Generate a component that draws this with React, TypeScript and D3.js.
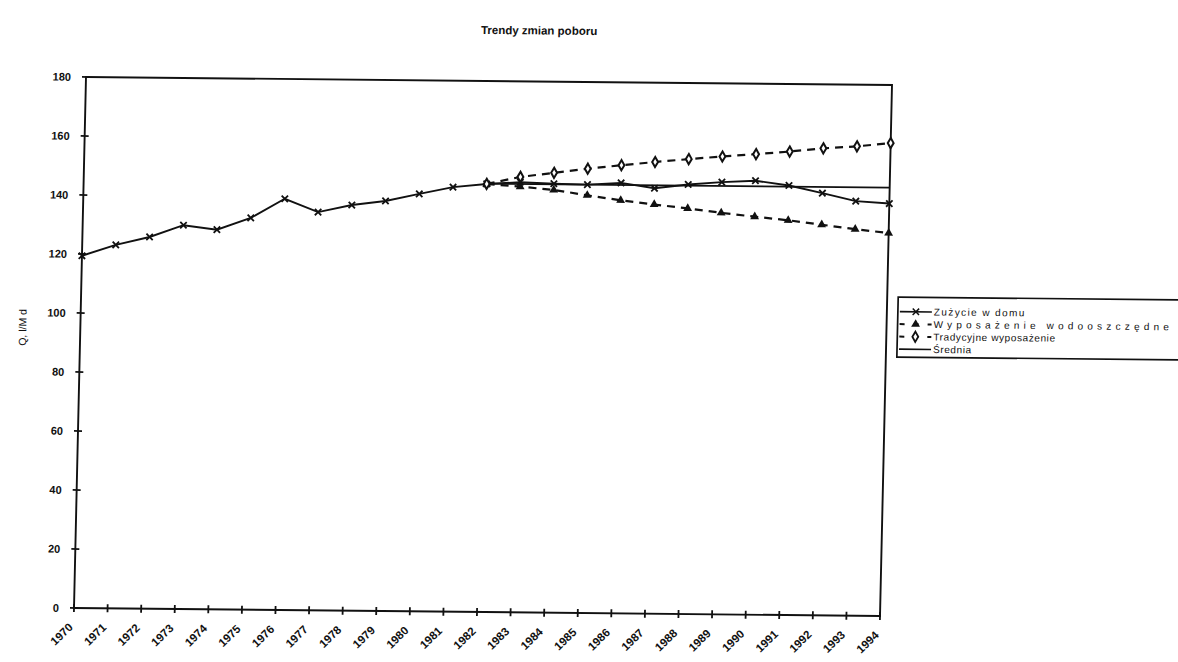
import React from "react";
import * as d3 from "d3";

// Years on the category axis
const YEARS = [
  1970, 1971, 1972, 1973, 1974, 1975, 1976, 1977, 1978, 1979, 1980, 1981, 1982,
  1983, 1984, 1985, 1986, 1987, 1988, 1989, 1990, 1991, 1992, 1993, 1994,
];

// Household consumption, l/M d
const HOME_USE = [
  119.4, 123.2, 126.0, 130.1, 128.7, 132.8, 139.4, 135.0, 137.5, 139.0, 141.5, 143.9, 145.1,
  145.8, 145.4, 145.2, 145.9, 144.2, 145.6, 146.5, 147.1, 145.6, 143.1, 140.5, 139.8,
];

// Projection years (both scenarios)
const PROJ_YEARS = [1982, 1983, 1984, 1985, 1986, 1987, 1988, 1989, 1990, 1991, 1992, 1993, 1994];
// Water-saving fixtures scenario
const SAVING = [145.1, 144.3, 143.3, 141.6, 140.0, 138.7, 137.5, 136.1, 134.9, 133.8, 132.4, 131.0, 129.8];
// Traditional fixtures scenario
const TRADITIONAL = [145.1, 147.6, 149.1, 150.6, 151.9, 153.1, 154.2, 155.2, 156.1, 157.1, 158.3, 159.1, 160.3];

// Mean level over the projection period
const MEAN_YEARS = [1982, 1994];
const MEAN_VALUE = 145.2;

const Y_TICKS = [0, 20, 40, 60, 80, 100, 120, 140, 160, 180];

const LEGEND = [
  "Zużycie w domu",
  "Wyposażenie wodooszczędne",
  "Tradycyjne wyposażenie",
  "Średnia",
];
const LEGEND_SPACING = [1.4, 4.2, 0.6, 0.6];

const FONT = "'Liberation Sans', Arial, Helvetica, sans-serif";
const INK = "#111";

const PLOT = { left: 86, top: 77, width: 806, height: 531 };

const xMark = "M-3.2,-3.2L3.2,3.2M-3.2,3.2L3.2,-3.2";
const triMark = d3.symbol(d3.symbolTriangle, 34)() as string;
const diaMark = d3.symbol(d3.symbolDiamond, 30)() as string;

export default function App() {
  const x = d3.scalePoint<number>().domain(YEARS).range([0, PLOT.width]);
  const y = d3.scaleLinear().domain([0, 180]).range([PLOT.height, 0]);

  const line = d3
    .line<[number, number]>()
    .x((d) => x(d[0]) as number)
    .y((d) => y(d[1]));

  const homePts: [number, number][] = YEARS.map((yr, i) => [yr, HOME_USE[i]]);
  const savPts: [number, number][] = PROJ_YEARS.map((yr, i) => [yr, SAVING[i]]);
  const tradPts: [number, number][] = PROJ_YEARS.map((yr, i) => [yr, TRADITIONAL[i]]);
  const meanPts: [number, number][] = MEAN_YEARS.map((yr) => [yr, MEAN_VALUE]);

  const dash = "8 6";

  return (
    <svg
      width={1178}
      height={662}
      style={{ position: "absolute", left: 0, top: 0, background: "#fff" }}
      fontFamily={FONT}
    >
      <rect width={1178} height={662} fill="#fff" />
      <g transform="matrix(1,0.0099,-0.0226,1,1.74,-0.85)">
        <text
          x={538}
          y={30}
          textAnchor="middle"
          fontSize={11.5}
          fontWeight="bold"
          fill={INK}
        >
          Trendy zmian poboru
        </text>

        <text
          transform="translate(32,328) rotate(-90)"
          textAnchor="middle"
          fontSize={10.5}
          fill={INK}
        >
          Q, l/M d
        </text>

        <g transform={`translate(${PLOT.left},${PLOT.top})`}>
          <rect
            x={0}
            y={0}
            width={PLOT.width}
            height={PLOT.height}
            fill="none"
            stroke={INK}
            strokeWidth={1.9}
          />

          {/* value axis */}
          {Y_TICKS.map((t) => (
            <g key={t} transform={`translate(0,${y(t)})`}>
              <line x1={-4} x2={4} stroke={INK} strokeWidth={1.8} />
              <text
                x={-15}
                dy="0.35em"
                textAnchor="end"
                fontSize={11}
                fontWeight="bold"
                fill={INK}
              >
                {t}
              </text>
            </g>
          ))}

          {/* category axis */}
          {YEARS.map((yr) => (
            <g key={yr} transform={`translate(${x(yr)},${PLOT.height})`}>
              <line y1={-4} y2={4} stroke={INK} strokeWidth={1.8} />
              <text
                transform="translate(0,20) rotate(-45)"
                textAnchor="end"
                fontSize={11.5}
                fontWeight="bold"
                fill={INK}
              >
                {yr}
              </text>
            </g>
          ))}

          {/* series lines */}
          <path d={line(meanPts) as string} fill="none" stroke={INK} strokeWidth={1.8} />
          <path d={line(homePts) as string} fill="none" stroke={INK} strokeWidth={1.9} />
          <path
            d={line(savPts) as string}
            fill="none"
            stroke={INK}
            strokeWidth={2.2}
            strokeDasharray={dash}
          />
          <path
            d={line(tradPts) as string}
            fill="none"
            stroke={INK}
            strokeWidth={2.2}
            strokeDasharray={dash}
          />

          {/* markers */}
          {homePts.map((p) => (
            <path
              key={`h${p[0]}`}
              d={xMark}
              transform={`translate(${x(p[0])},${y(p[1])})`}
              stroke={INK}
              strokeWidth={1.8}
              fill="none"
            />
          ))}
          {savPts.map((p) => (
            <path
              key={`s${p[0]}`}
              d={triMark}
              transform={`translate(${x(p[0])},${y(p[1])})`}
              fill={INK}
            />
          ))}
          {tradPts.map((p) => (
            <path
              key={`t${p[0]}`}
              d={diaMark}
              transform={`translate(${x(p[0])},${y(p[1])})`}
              fill="#fff"
              stroke={INK}
              strokeWidth={2}
            />
          ))}
        </g>

        {/* legend */}
        <g transform="translate(903,289)">
          <rect x={0} y={0} width={300} height={60} fill="#fff" stroke={INK} strokeWidth={1.7} />
          {LEGEND.map((label, i) => {
            const cy = 14.5 + i * 12.5;
            return (
              <g key={label} transform={`translate(0,${cy})`}>
                <line
                  x1={2}
                  x2={34}
                  stroke={INK}
                  strokeWidth={i === 0 || i === 3 ? 1.6 : 2}
                  strokeDasharray={i === 1 || i === 2 ? "5 9" : undefined}
                />
                {i === 0 && <path d={xMark} transform="translate(18,0)" stroke={INK} strokeWidth={1.5} />}
                {i === 1 && <path d={triMark} transform="translate(18,0)" fill={INK} />}
                {i === 2 && (
                  <path
                    d={diaMark}
                    transform="translate(18,0)"
                    fill="#fff"
                    stroke={INK}
                    strokeWidth={1.8}
                  />
                )}
                <text
                  x={36}
                  dy="0.35em"
                  fontSize={10}
                  fill={INK}
                  letterSpacing={LEGEND_SPACING[i]}
                >
                  {label}
                </text>
              </g>
            );
          })}
        </g>
      </g>
    </svg>
  );
}
